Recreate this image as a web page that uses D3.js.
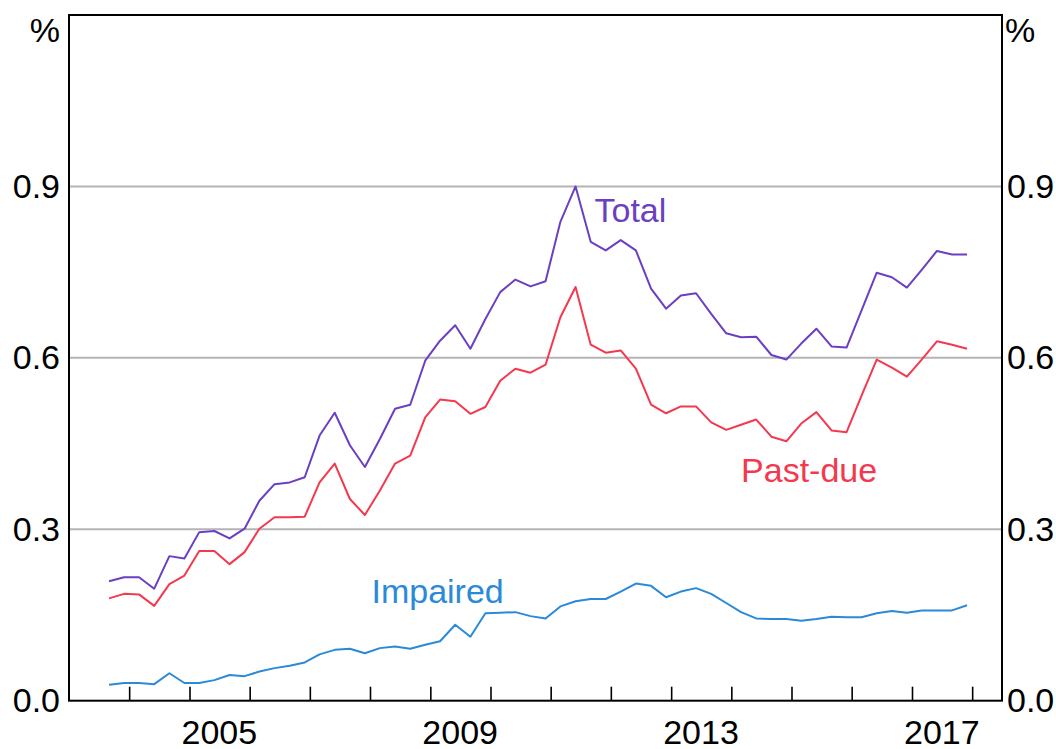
<!DOCTYPE html>
<html>
<head>
    <meta charset="utf-8">
    <script src="https://d3js.org/d3.v7.min.js"></script>
    <style>
        body {
            margin: 0;
            background-color: white;
        }

        svg text {
            font-family: 'Liberation Sans', Arial, sans-serif;
        }
    </style>
</head>

<body>
    <svg id="chart" width="1056" height="749"></svg>
    <script>
        // quarterly observations, Sep 2003 to Dec 2017
        var quarters = [
            '2003-09', '2003-12',
            '2004-03', '2004-06', '2004-09', '2004-12',
            '2005-03', '2005-06', '2005-09', '2005-12',
            '2006-03', '2006-06', '2006-09', '2006-12',
            '2007-03', '2007-06', '2007-09', '2007-12',
            '2008-03', '2008-06', '2008-09', '2008-12',
            '2009-03', '2009-06', '2009-09', '2009-12',
            '2010-03', '2010-06', '2010-09', '2010-12',
            '2011-03', '2011-06', '2011-09', '2011-12',
            '2012-03', '2012-06', '2012-09', '2012-12',
            '2013-03', '2013-06', '2013-09', '2013-12',
            '2014-03', '2014-06', '2014-09', '2014-12',
            '2015-03', '2015-06', '2015-09', '2015-12',
            '2016-03', '2016-06', '2016-09', '2016-12',
            '2017-03', '2017-06', '2017-09', '2017-12'
        ];

        var total = [
            0.209, 0.216, 0.216, 0.196, 0.253, 0.249, 0.295, 0.297, 0.284, 0.301,
            0.350, 0.379, 0.382, 0.391, 0.464, 0.504, 0.447, 0.409, 0.458, 0.511,
            0.518, 0.595, 0.630, 0.657, 0.616, 0.668, 0.715, 0.737, 0.725, 0.734,
            0.838, 0.900, 0.803, 0.788, 0.806, 0.788, 0.721, 0.686, 0.709, 0.713,
            0.677, 0.643, 0.636, 0.637, 0.605, 0.597, 0.625, 0.651, 0.620, 0.618,
            0.683, 0.749, 0.741, 0.723, 0.754, 0.787, 0.781, 0.781
        ];

        var pastDue = [
            0.179, 0.187, 0.186, 0.166, 0.204, 0.219, 0.262, 0.262, 0.239, 0.260,
            0.301, 0.321, 0.321, 0.322, 0.382, 0.415, 0.353, 0.325, 0.368, 0.415,
            0.429, 0.496, 0.527, 0.524, 0.502, 0.514, 0.560, 0.581, 0.574, 0.588,
            0.671, 0.724, 0.623, 0.609, 0.613, 0.581, 0.518, 0.503, 0.515, 0.515,
            0.487, 0.474, 0.483, 0.492, 0.462, 0.454, 0.485, 0.505, 0.473, 0.470,
            0.534, 0.597, 0.583, 0.567, 0.597, 0.629, 0.623, 0.616
        ];

        var impaired = [
            0.028, 0.031, 0.031, 0.029, 0.048, 0.031, 0.031, 0.036, 0.045, 0.043,
            0.051, 0.057, 0.061, 0.067, 0.081, 0.089, 0.091, 0.083, 0.092, 0.095,
            0.091, 0.098, 0.104, 0.133, 0.112, 0.153, 0.154, 0.155, 0.148, 0.144,
            0.165, 0.174, 0.178, 0.178, 0.191, 0.205, 0.201, 0.181, 0.191, 0.197,
            0.187, 0.171, 0.155, 0.144, 0.143, 0.143, 0.140, 0.143, 0.147, 0.146,
            0.146, 0.153, 0.157, 0.154, 0.158, 0.158, 0.158, 0.167
        ];

        var yTicks = [0, 0.3, 0.6, 0.9];
        var yearLabels = [2005, 2009, 2013, 2017];

        var seriesNames = ['Total', 'Past-due', 'Impaired'];
        var seriesColors = ['#6a3fc2', '#f4384e', '#2a8ad8'];
        // where each series name sits: [date, value at text baseline]
        var labelAnchors = [['2011-09-24', 0.837], ['2014-03-01', 0.383], ['2008-01-10', 0.171]];

        function draw() {
            var plotLeft = 69, plotRight = 1002, plotTop = 15, plotBottom = 700.7;
            var fontSize = 34;
            var fontFamily = "'Liberation Sans', Arial, sans-serif";
            var parse = d3.timeParse('%Y-%m');
            var parseDay = d3.timeParse('%Y-%m-%d');

            var x = d3.scaleTime()
                .domain([new Date(2003, 0, 1), new Date(2018, 6, 1)])
                .range([plotLeft, plotRight]);
            var y = d3.scaleLinear().domain([0, 1.2]).range([plotBottom, plotTop]);

            var svg = d3.select('#chart');

            // horizontal grid
            svg.append('g')
                .selectAll('line')
                .data(yTicks.filter(function (d) { return d > 0; }))
                .join('line')
                .attr('x1', plotLeft).attr('x2', plotRight)
                .attr('y1', function (d) { return y(d); })
                .attr('y2', function (d) { return y(d); })
                .attr('stroke', '#b4b4b4')
                .attr('stroke-width', 2);

            // year ticks on the bottom axis, pointing up
            var years = d3.timeYear.range(new Date(2004, 0, 1), new Date(2018, 1, 1));
            var xAxis = d3.axisTop(x).tickValues(years).tickSize(14).tickFormat('');
            svg.append('g')
                .attr('transform', 'translate(0,' + plotBottom + ')')
                .call(xAxis)
                .call(function (g) {
                    g.select('.domain').remove();
                    g.selectAll('.tick line').attr('stroke', '#000').attr('stroke-width', 1.6);
                });

            // year labels centred in the year
            svg.append('g')
                .selectAll('text')
                .data(yearLabels)
                .join('text')
                .attr('x', function (d) { return x(new Date(d, 6, 1)); })
                .attr('y', 744)
                .attr('text-anchor', 'middle')
                .attr('font-size', fontSize)
                .attr('fill', '#000')
                .text(function (d) { return d; });

            // value labels on both sides
            var yAxisLeft = d3.axisLeft(y).tickValues(yTicks).tickSize(0).tickPadding(9).tickFormat(d3.format('.1f'));
            var yAxisRight = d3.axisRight(y).tickValues(yTicks).tickSize(0).tickPadding(5).tickFormat(d3.format('.1f'));
            [[yAxisLeft, plotLeft], [yAxisRight, plotRight]].forEach(function (a) {
                svg.append('g')
                    .attr('transform', 'translate(' + a[1] + ',0)')
                    .call(a[0])
                    .call(function (g) {
                        g.attr('font-size', fontSize).attr('font-family', fontFamily);
                        g.select('.domain').remove();
                        g.selectAll('text').attr('fill', '#000');
                    });
            });

            svg.append('text')
                .attr('x', plotLeft - 9).attr('y', 42)
                .attr('text-anchor', 'end')
                .attr('font-size', fontSize)
                .text('%');
            svg.append('text')
                .attr('x', plotRight + 3).attr('y', 42)
                .attr('font-size', fontSize)
                .text('%');

            // lines
            var dates = quarters.map(parse);
            var line = d3.line()
                .x(function (d, i) { return x(dates[i]); })
                .y(function (d) { return y(d); });

            [total, pastDue, impaired].forEach(function (s, k) {
                svg.append('path')
                    .datum(s)
                    .attr('d', line)
                    .attr('fill', 'none')
                    .attr('stroke', seriesColors[k])
                    .attr('stroke-width', 2)
                    .attr('stroke-linejoin', 'round');
            });

            // series names
            svg.append('g')
                .selectAll('text')
                .data(seriesNames)
                .join('text')
                .attr('x', function (d, i) { return x(parseDay(labelAnchors[i][0])); })
                .attr('y', function (d, i) { return y(labelAnchors[i][1]); })
                .attr('font-size', fontSize)
                .attr('fill', function (d, i) { return seriesColors[i]; })
                .text(function (d) { return d; });

            // frame
            svg.append('rect')
                .attr('x', plotLeft).attr('y', plotTop)
                .attr('width', plotRight - plotLeft).attr('height', plotBottom - plotTop)
                .attr('fill', 'none')
                .attr('stroke', '#000')
                .attr('stroke-width', 2);
        }

        draw();
    </script>
</body>

</html>
